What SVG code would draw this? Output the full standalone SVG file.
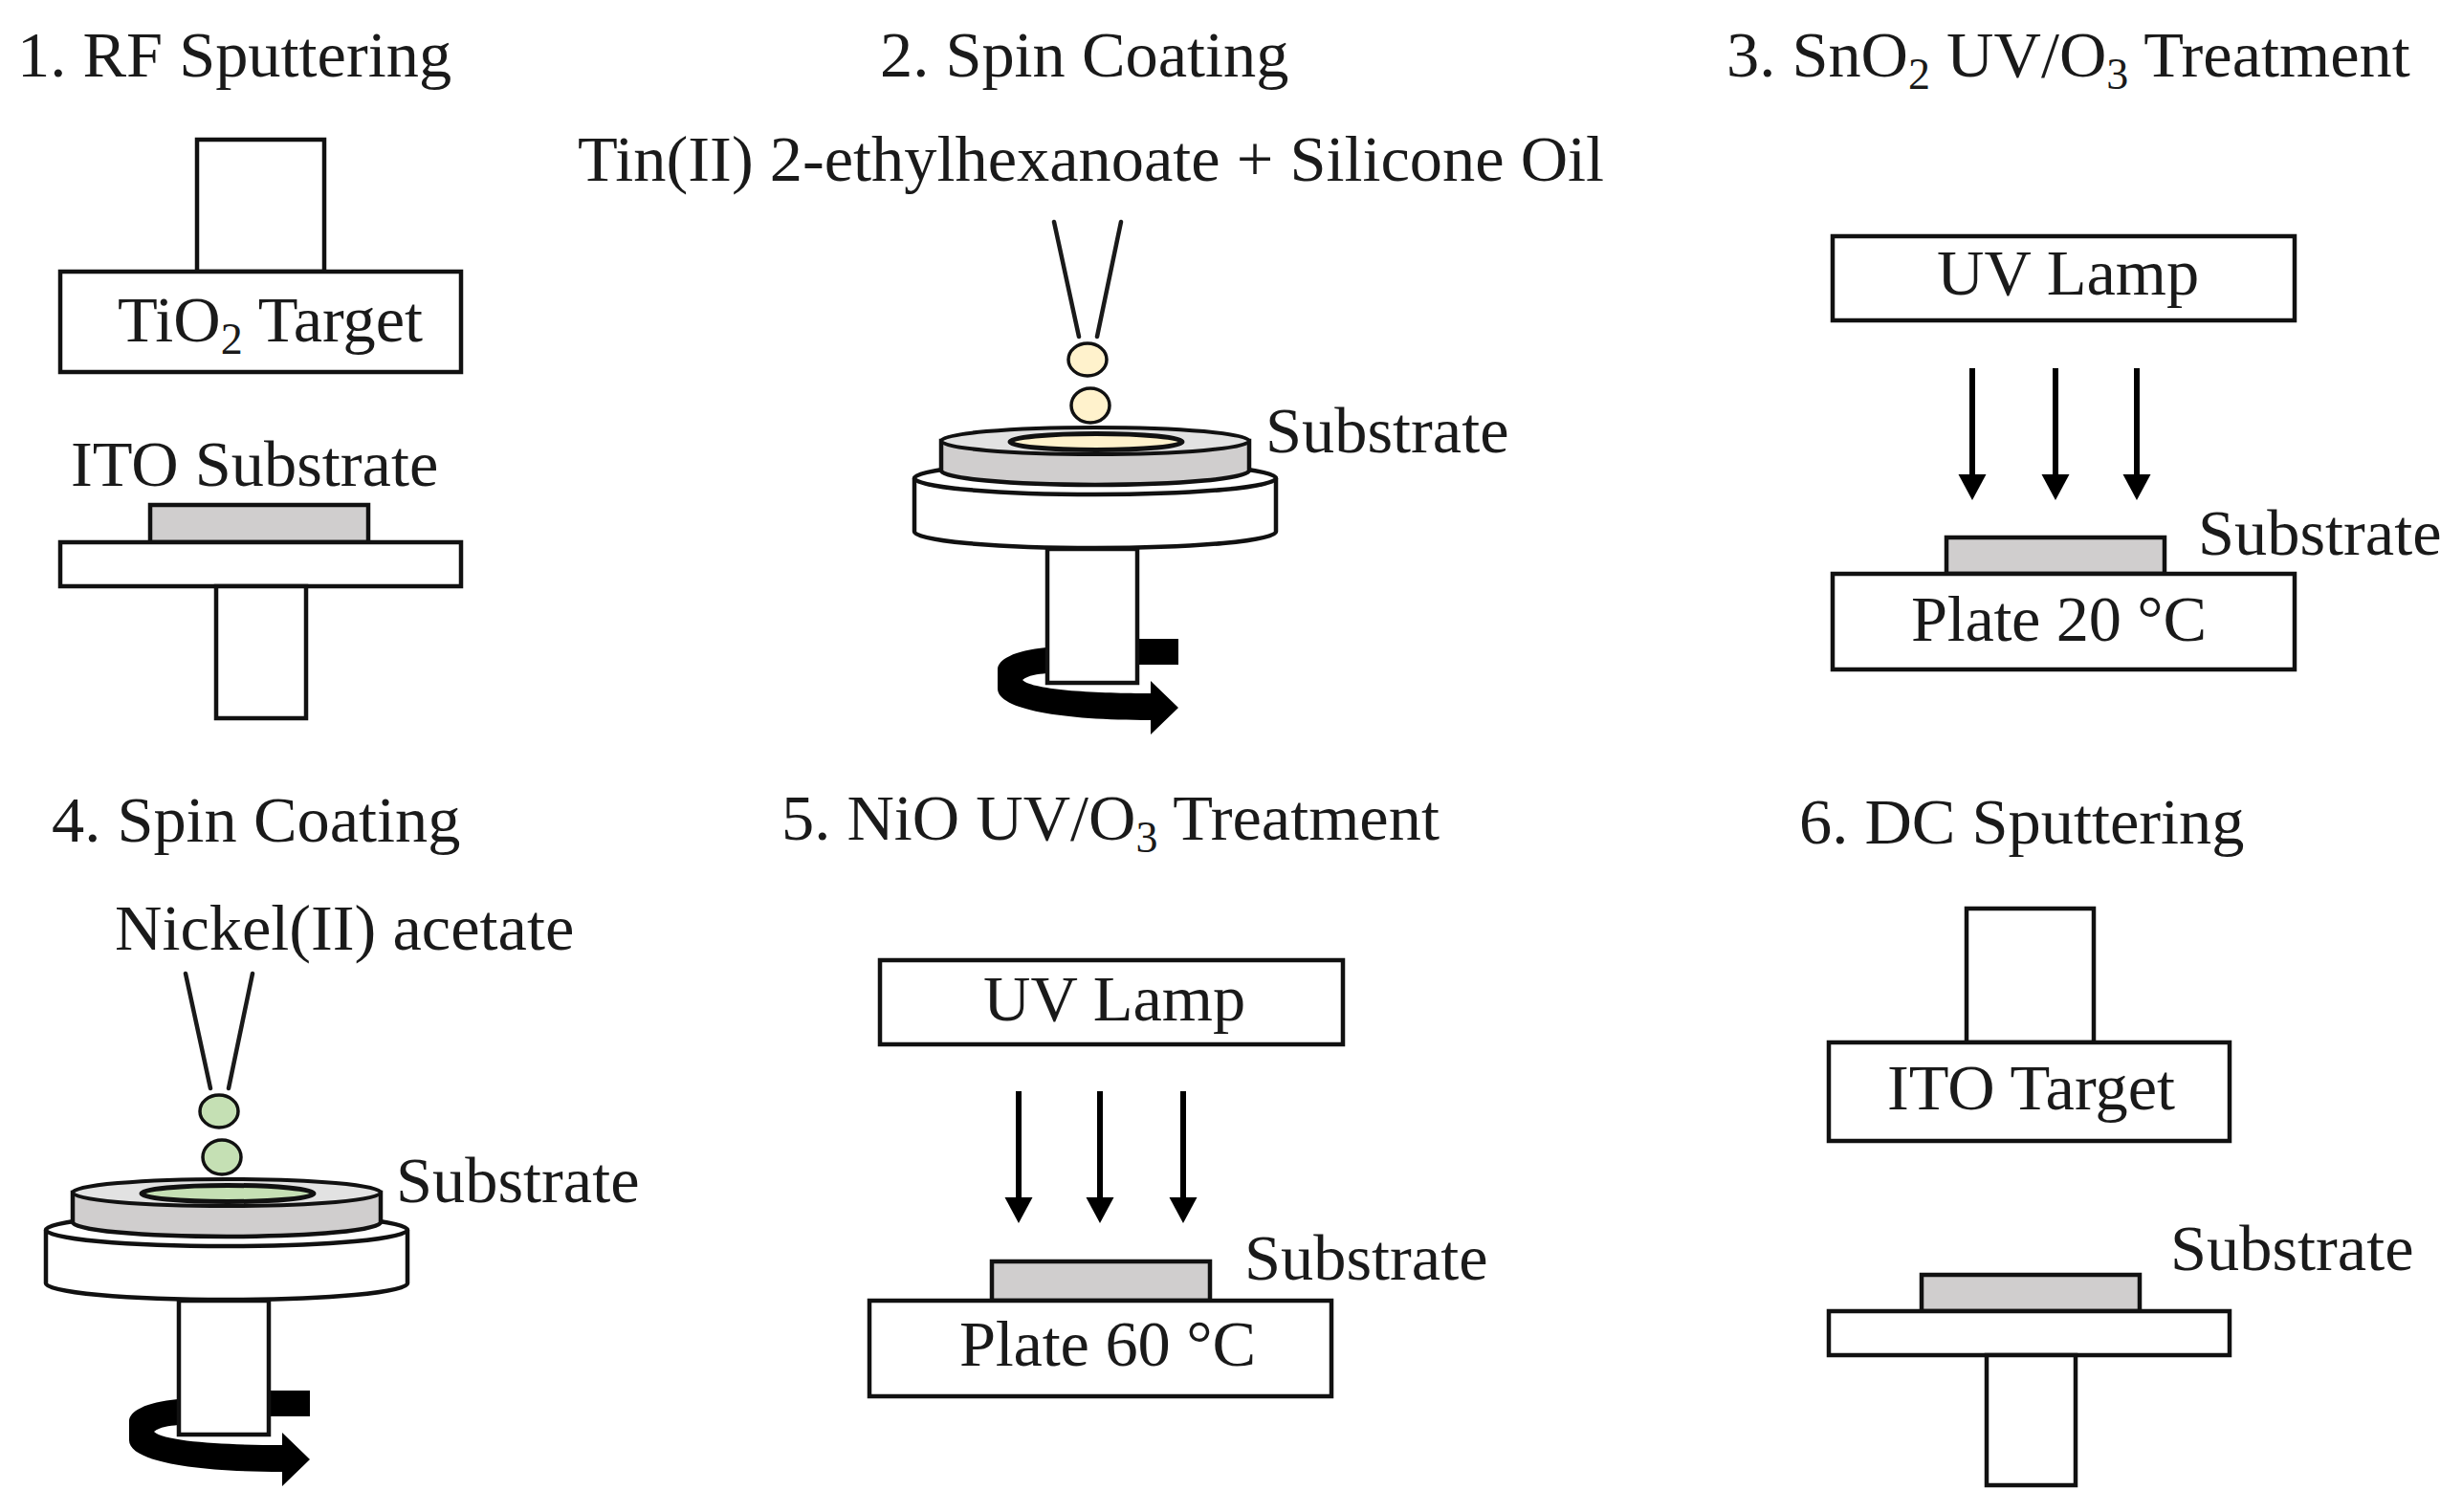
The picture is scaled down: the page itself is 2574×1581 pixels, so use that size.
<svg xmlns="http://www.w3.org/2000/svg" width="2574" height="1581" viewBox="0 0 2574 1581">
<defs>
<style>
text{font-family:"Liberation Serif","Times New Roman",serif;font-size:68.400px;fill:#1a1a1a}
.b{fill:#fff;stroke:#111;stroke-width:4.500}
.g{fill:#d0cece;stroke:#111;stroke-width:4.500}
.n{fill:none;stroke:#1a1a1a;stroke-width:4.500;stroke-linecap:round}
.d{stroke:#111;stroke-width:3.500}
.top{fill:#e2e2e2;stroke:#111;stroke-width:4}
.k{fill:#000;stroke:none}
.ray{stroke:#000;stroke-width:6;fill:none;marker-end:url(#ah)}
.sub{font-size:46px}
</style>
<marker id="ah" markerUnits="userSpaceOnUse" markerWidth="30" markerHeight="28" refX="0" refY="14.500" orient="auto" overflow="visible"><path d="M0,0L27,14.500L0,29Z" fill="#000"/></marker>
</defs>
<rect width="2574" height="1581" fill="#fff"/>

<g id="panel1">
<text x="18" y="80">1. RF Sputtering</text>
<rect class="b" x="206" y="146" width="133" height="138"/>
<rect class="b" x="63" y="284" width="419" height="105"/>
<text x="123" y="357">TiO<tspan class="sub" dy="13">2</tspan><tspan dy="-13"> Target</tspan></text>
<text x="74" y="508">ITO Substrate</text>
<rect class="g" x="157" y="528" width="228" height="39"/>
<rect class="b" x="63" y="567" width="419" height="46"/>
<rect class="b" x="226" y="613" width="94" height="138"/>
</g>

<g id="panel2">
<text x="920" y="80">2. Spin Coating</text>
<text x="604" y="189">Tin(II) 2-ethylhexanoate + Silicone Oil</text>
<text x="1323" y="473">Substrate</text>
<g id="spinner2">
<path class="n" d="M1102,232L1128,352M1172,232L1147,352"/>
<ellipse class="d" fill="#fff2cc" cx="1137" cy="376" rx="20" ry="17"/>
<ellipse class="d" fill="#fff2cc" cx="1140" cy="424" rx="20" ry="18"/>
<path class="b" d="M956,500A189,17,0,0,1,1334,500V556A189,17,0,0,1,956,556Z"/>
<path class="b" fill="none" d="M956,500A189,17,0,0,0,1334,500"/>
<path class="g" d="M984,461V492A161,15,0,0,0,1306,492V461Z"/>
<ellipse class="top" cx="1145" cy="461" rx="161" ry="14"/>
<ellipse fill="#fff2cc" stroke="#111" stroke-width="5" cx="1146" cy="462" rx="90" ry="8.500"/>
<rect class="k" x="1180" y="668" width="52" height="27"/>
<path class="k" d="M1094,677C1060,680 1043,690 1043,700L1043,720C1043,742 1110,753 1203,753L1203,768L1232,740L1203,712L1203,725C1150,725 1080,722 1069,711C1075,706 1085,705 1094,704Z"/>
<rect class="b" x="1095" y="574" width="94" height="140"/>
</g>
</g>

<g id="panel3">
<text x="1805" y="80">3. SnO<tspan class="sub" dy="13">2</tspan><tspan dy="-13"> UV/O</tspan><tspan class="sub" dy="13">3</tspan><tspan dy="-13"> Treatment</tspan></text>
<rect class="b" x="1916" y="247" width="483" height="88"/>
<text x="2025" y="308">UV Lamp</text>
<text x="2298" y="580">Substrate</text>
<rect class="g" x="2035" y="562" width="228" height="38"/>
<rect class="b" x="1916" y="600" width="483" height="100"/>
<text x="1998" y="670" textLength="309">Plate 20 °C</text>
</g>

<g id="panel4">
<text x="54" y="880">4. Spin Coating</text>
<text x="120" y="993">Nickel(II) acetate</text>
<text x="414" y="1257">Substrate</text>
<g id="spinner4" transform="translate(-908,786)">
<path class="n" d="M1102,232L1128,352M1172,232L1147,352"/>
<ellipse class="d" fill="#c5e0b4" cx="1137" cy="376" rx="20" ry="17"/>
<ellipse class="d" fill="#c5e0b4" cx="1140" cy="424" rx="20" ry="18"/>
<path class="b" d="M956,500A189,17,0,0,1,1334,500V556A189,17,0,0,1,956,556Z"/>
<path class="b" fill="none" d="M956,500A189,17,0,0,0,1334,500"/>
<path class="g" d="M984,461V492A161,15,0,0,0,1306,492V461Z"/>
<ellipse class="top" cx="1145" cy="461" rx="161" ry="14"/>
<ellipse fill="#c5e0b4" stroke="#111" stroke-width="5" cx="1146" cy="462" rx="90" ry="8.500"/>
<rect class="k" x="1180" y="668" width="52" height="27"/>
<path class="k" d="M1094,677C1060,680 1043,690 1043,700L1043,720C1043,742 1110,753 1203,753L1203,768L1232,740L1203,712L1203,725C1150,725 1080,722 1069,711C1075,706 1085,705 1094,704Z"/>
<rect class="b" x="1095" y="574" width="94" height="140"/>
</g>
</g>

<g id="panel5">
<text x="817" y="878">5. NiO UV/O<tspan class="sub" dy="13">3</tspan><tspan dy="-13"> Treatment</tspan></text>
<rect class="b" x="920" y="1004" width="484" height="88"/>
<text x="1028" y="1067">UV Lamp</text>
<text x="1301" y="1338">Substrate</text>
<rect class="g" x="1037" y="1319" width="228" height="41"/>
<rect class="b" x="909" y="1360" width="483" height="100"/>
<text x="1003" y="1428" textLength="310">Plate 60 °C</text>
</g>

<g id="panel6">
<text x="1881" y="882">6. DC Sputtering</text>
<rect class="b" x="2056" y="950" width="133" height="140"/>
<rect class="b" x="1912" y="1090" width="419" height="103"/>
<text x="1973" y="1160">ITO Target</text>
<text x="2269" y="1328">Substrate</text>
<rect class="g" x="2009" y="1333" width="228" height="38"/>
<rect class="b" x="1912" y="1371" width="419" height="46"/>
<rect class="b" x="2077" y="1417" width="93" height="136"/>
</g>

<g id="connectors">
<path class="ray" d="M2062,385V496"/>
<path class="ray" d="M2149,385V496"/>
<path class="ray" d="M2234,385V496"/>
<path class="ray" d="M1065,1141V1252"/>
<path class="ray" d="M1150,1141V1252"/>
<path class="ray" d="M1237,1141V1252"/>
</g>
</svg>
